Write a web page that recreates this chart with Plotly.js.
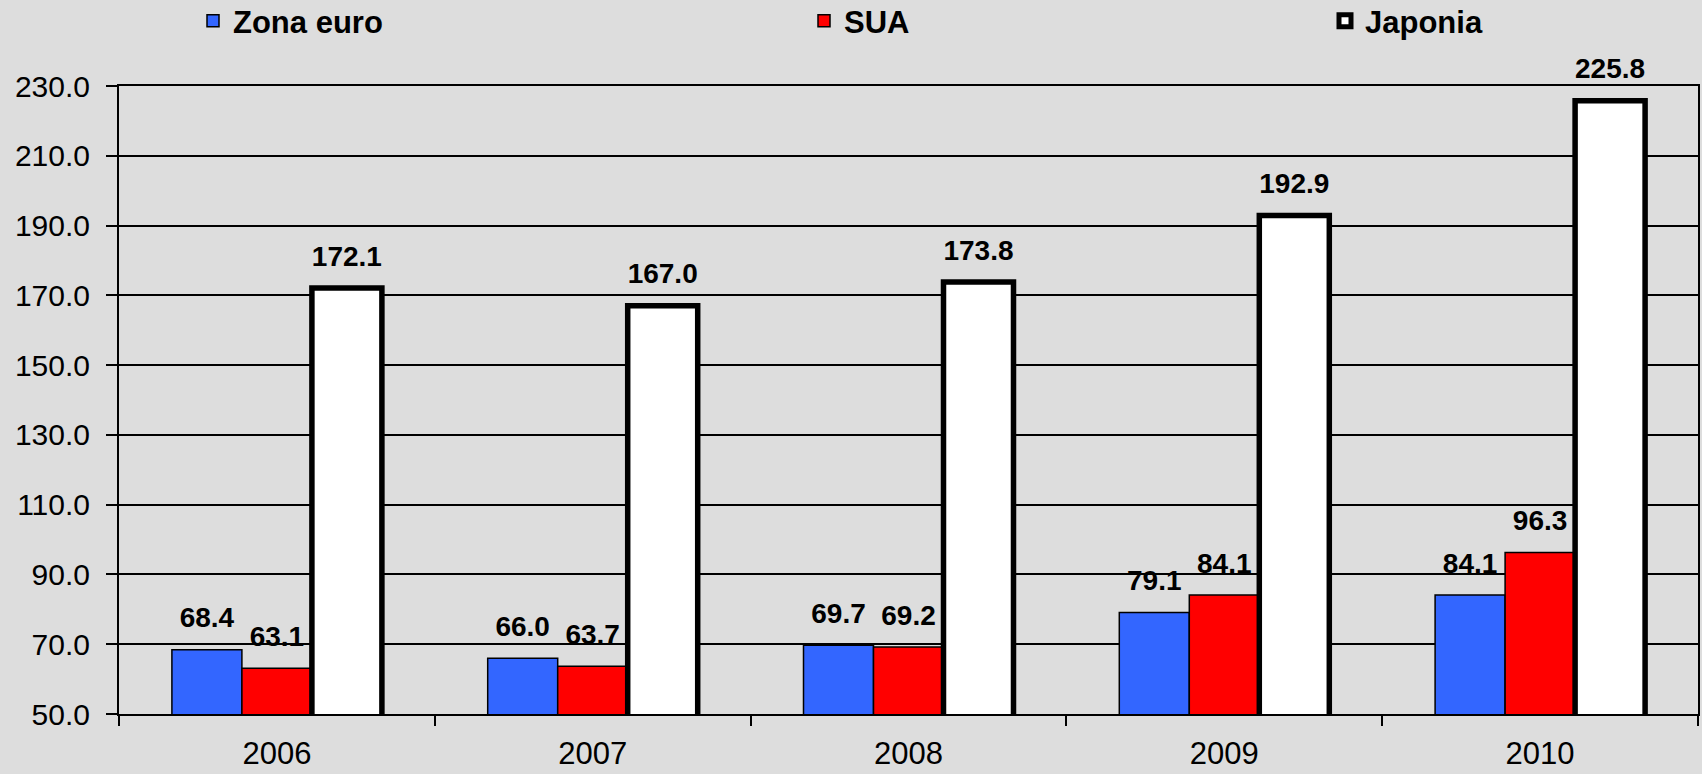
<!DOCTYPE html>
<html>
<head>
<meta charset="utf-8">
<script src="https://cdn.plot.ly/plotly-3.0.1.min.js"></script>
<style>
html,body{margin:0;padding:0;background:#dddddd;}
#chart{width:1702px;height:774px;}
</style>
</head>
<body>
<div id="chart"></div>
<script>
// ---- data ----
const years = ['2006', '2007', '2008', '2009', '2010'];
const zonaEuro = [68.4, 66.0, 69.7, 79.1, 84.1];
const sua = [63.1, 63.7, 69.2, 84.1, 96.3];
const japonia = [172.1, 167.0, 173.8, 192.9, 225.8];
const seriesNames = ['Zona euro', 'SUA', 'Japonia'];
const yTicks = [50, 70, 90, 110, 130, 150, 170, 190, 210, 230];

// ---- styles ----
const FONT = '"Liberation Sans", Arial, sans-serif';
const BG = '#dddddd';
const fills = ['#3366ff', '#ff0000', '#ffffff'];
const borders = [1.5, 1.5, 5.5];
const legendIds = ['legend', 'legend2', 'legend3'];
const series = [zonaEuro, sua, japonia];

const traces = [];
series.forEach((vals, i) => {
  traces.push({
    type: 'bar',
    name: seriesNames[i],
    x: years,
    y: vals,
    legend: legendIds[i],
    marker: {color: fills[i], line: {color: '#000000', width: borders[i]}},
    hoverinfo: 'name+y'
  });
});
series.forEach((vals, i) => {
  traces.push({
    type: 'scatter',
    mode: 'markers+text',
    orientation: 'v',
    x: years,
    y: vals,
    showlegend: false,
    hoverinfo: 'skip',
    marker: {size: 23, opacity: 0},
    texttemplate: '%{y:.1f}',
    textposition: 'top center',
    textfont: {family: FONT, size: 28, weight: 'bold', color: '#000000'},
    cliponaxis: false
  });
});

function legendAt(px) {
  return {
    xref: 'container', yref: 'container',
    x: px / 1702, y: 1 - 21 / 774, xanchor: 'left', yanchor: 'middle',
    orientation: 'h',
    bgcolor: 'rgba(0,0,0,0)', borderwidth: 0,
    font: {family: FONT, size: 31, weight: 'bold', color: '#000000'}
  };
}

const layout = {
  width: 1702, height: 774,
  paper_bgcolor: BG, plot_bgcolor: BG,
  margin: {l: 119, r: 4, t: 86, b: 60},
  barmode: 'group',
  bargap: 0.335,
  bargroupgap: 0,
  scattermode: 'group',
  scattergap: 0.335,
  font: {family: FONT, size: 30, color: '#000000'},
  showlegend: true,
  legend: legendAt(193),
  legend2: legendAt(804),
  legend3: legendAt(1325),
  xaxis: {
    type: 'category',
    showline: true, linecolor: '#000000', linewidth: 2, mirror: true,
    ticks: 'outside', tickson: 'boundaries', ticklen: 10, tickwidth: 2, tickcolor: '#000000',
    ticklabelstandoff: 11,
    tickfont: {family: FONT, size: 31, color: '#000000'},
    showgrid: false, zeroline: false, fixedrange: true
  },
  yaxis: {
    range: [50, 230],
    tickvals: yTicks,
    tickformat: '.1f',
    showline: true, linecolor: '#000000', linewidth: 2, mirror: true,
    ticks: 'outside', ticklen: 11, tickwidth: 2, tickcolor: '#000000',
    ticklabelstandoff: 10,
    tickfont: {family: FONT, size: 30, color: '#000000'},
    showgrid: true, gridcolor: '#000000', gridwidth: 2,
    zeroline: false, fixedrange: true
  }
};

Plotly.newPlot('chart', traces, layout, {displayModeBar: false, staticPlot: true});
</script>
</body>
</html>
